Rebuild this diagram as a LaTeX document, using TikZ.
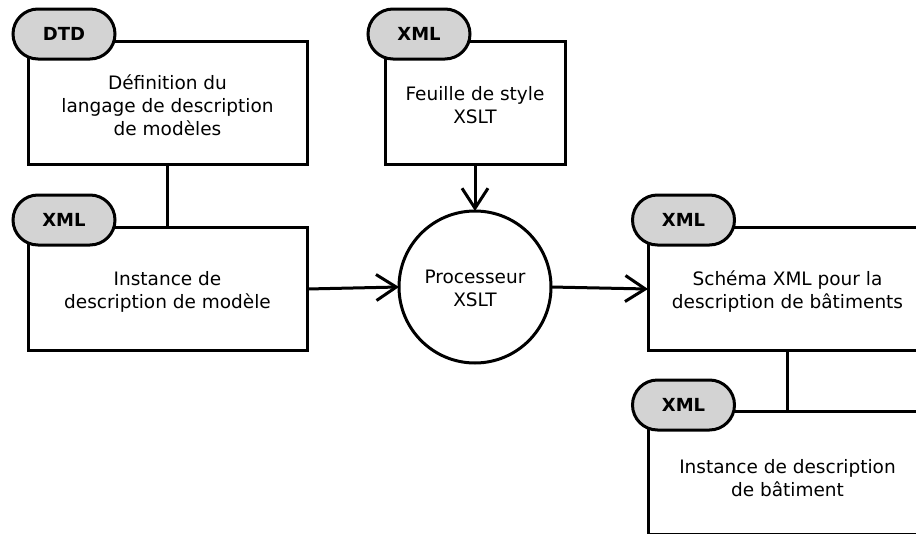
\documentclass[tikz,border=0pt]{standalone}
\usepackage{fontspec}
\setmainfont{DejaVu Sans}
\usetikzlibrary{arrows.meta,shapes.misc}
\definecolor{tabgray}{HTML}{D3D3D3}
\begin{document}
\begin{tikzpicture}[x=1pt,y=-1pt,
  every node/.style={inner sep=0pt, outer sep=0pt},
  docbox/.style={draw, line width=3pt, fill=white, minimum height=123pt},
  boxtext/.style={align=center, font=\fontsize{18.5}{23}\selectfont},
  tab/.style={draw, line width=3pt, fill=tabgray, rounded rectangle,
    minimum width=102pt, minimum height=50pt,
    font=\fontsize{18}{20}\selectfont\bfseries},
  link/.style={line width=3pt},
  flow/.style={line width=3pt, -{Straight Barb[length=20pt,width=26pt]}}]
\useasboundingbox (0,0) rectangle (916,533);
\clip (0,0) rectangle (916,533);

% document boxes
\node[docbox, minimum width=279pt] (dtd)    at (167.5,102.5) {};
\node[docbox, minimum width=279pt] (inst)   at (167.5,289)   {};
\node[docbox, minimum width=180pt] (xslt)   at (475,102.5)   {};
\node[docbox, minimum width=279pt] (schema) at (787.5,289)   {};
\node[docbox, minimum width=279pt] (bat)    at (787.5,473)   {};

% their captions, set a little below the box centres
\node[boxtext] (dtdtext)    at ([yshift=-3pt]dtd.center)    {Définition du\\langage de description\\de modèles};
\node[boxtext] (insttext)   at ([yshift=-3pt]inst.center)   {Instance de\\description de modèle};
\node[boxtext] (xslttext)   at ([yshift=-3pt]xslt.center)   {Feuille de style\\XSLT};
\node[boxtext] (schematext) at ([yshift=-3pt]schema.center) {Schéma XML pour la\\description de bâtiments};
\node[boxtext] (battext)    at ([yshift=-5pt]bat.center)    {Instance de description\\de bâtiment};

% processor
\node[draw, circle, line width=3pt, fill=white, minimum size=152pt] (proc) at (475,287) {};
\node[boxtext] (proctext) at ([yshift=-1pt]proc.center) {Processeur\\XSLT};

% format tabs
\node[tab] (tdtd)    at (64,34)     {DTD};
\node[tab] (tinst)   at (64,220)    {XML};
\node[tab] (txslt)   at (419,34)    {XML};
\node[tab] (tschema) at (683.5,220) {XML};
\node[tab] (tbat)    at (683.5,405) {XML};

% connectors
\draw[link] (dtd.south) -- (inst.north);
\draw[link] (schema.south) -- (bat.north);
\draw[flow] (xslt.south) -- (proc.north);
\draw[flow] (inst.east) -- (proc.west);
\draw[flow] (proc.east) -- (schema.west);
\end{tikzpicture}
\end{document}
